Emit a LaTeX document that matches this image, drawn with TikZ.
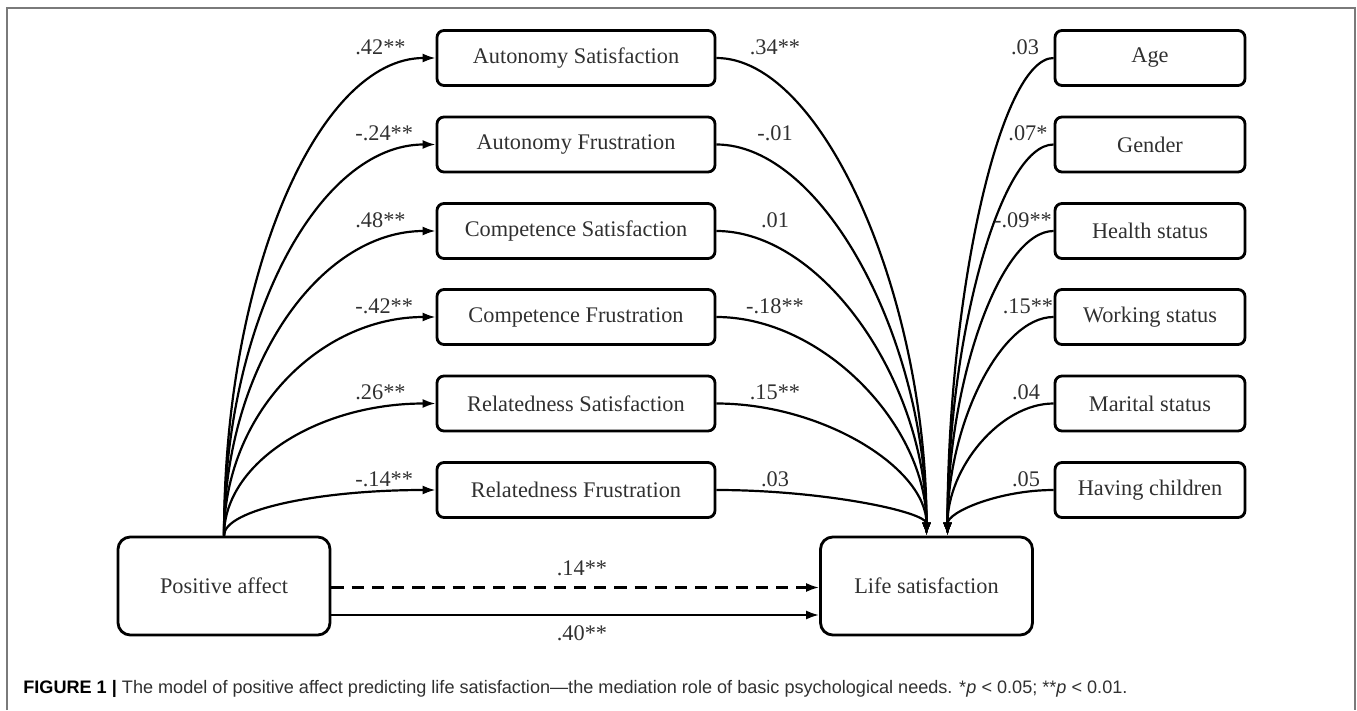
\documentclass[tikz,border=0pt]{standalone}
\usepackage{fontspec}
\setmainfont{Liberation Serif}
\newfontfamily\capfont{Liberation Sans}
\usetikzlibrary{arrows.meta}

\definecolor{tinta}{HTML}{303030}
\definecolor{marco}{HTML}{7A7A7A}

\begin{document}
\begin{tikzpicture}[>={Latex[length=2.6mm,width=1.8mm]}]
% Estilos para las cajas
\tikzstyle{need} = [draw, rectangle, rounded corners=4pt, line width=1.6pt, minimum width=5.56cm, minimum height=1.1cm, text=tinta, font=\fontsize{12.7}{15}\selectfont]
\tikzstyle{covar} = [need, minimum width=3.8cm]
\tikzstyle{mainvar} = [need, rounded corners=7pt, minimum width=4.24cm, minimum height=1.96cm]
\tikzstyle{coef} = [text=tinta, font=\fontsize{12.7}{15}\selectfont, inner sep=0pt]
\tikzstyle{link} = [->, line width=1.25pt]

\useasboundingbox (0,0) rectangle (27.14,14.2);

% Marco
\draw[marco, line width=1pt] (0.14,0) -- (0.14,14.04) -- (27.1,14.04) -- (27.1,0);

% Variables principales
\node[mainvar] (pa) at (4.48,2.48) {Positive affect};
\node[mainvar] (ls) at (18.53,2.48) {Life satisfaction};
\coordinate (lsr) at ([xshift=0.42cm]ls.north);

% Necesidades psicologicas
\node[need] (as) at (11.52,13.04) {Autonomy Satisfaction};
\node[need] (af) at (11.52,11.31) {Autonomy Frustration};
\node[need] (cs) at (11.52,9.58) {Competence Satisfaction};
\node[need] (cf) at (11.52,7.86) {Competence Frustration};
\node[need] (rs) at (11.52,6.13) {Relatedness Satisfaction};
\node[need] (rf) at (11.52,4.40) {Relatedness Frustration};

% Covariables
\node[covar] (age) at (23,13.04) {Age};
\node[covar] (gender) at (23,11.31) {Gender};
\node[covar] (health) at (23,9.58) {Health status};
\node[covar] (work) at (23,7.86) {Working status};
\node[covar] (marital) at (23,6.13) {Marital status};
\node[covar] (children) at (23,4.40) {Having children};

% Positive affect -> necesidades
\draw[link] (pa.north) .. controls +(0,5.27) and +(-2.33,0) .. (as.west);
\draw[link] (pa.north) .. controls +(0,4.32) and +(-2.33,0) .. (af.west);
\draw[link] (pa.north) .. controls +(0,3.37) and +(-2.33,0) .. (cs.west);
\draw[link] (pa.north) .. controls +(0,2.42) and +(-2.33,0) .. (cf.west);
\draw[link] (pa.north) .. controls +(0,1.47) and +(-2.33,0) .. (rs.west);
\draw[link] (pa.north) .. controls +(0,0.52) and +(-2.33,0) .. (rf.west);

\node[coef, anchor=west] (c1) at (7.1,13.26) {.42**};
\node[coef, anchor=west] (c2) at (7.1,11.53) {-.24**};
\node[coef, anchor=west] (c3) at (7.1,9.80) {.48**};
\node[coef, anchor=west] (c4) at (7.1,8.08) {-.42**};
\node[coef, anchor=west] (c5) at (7.1,6.35) {.26**};
\node[coef, anchor=west] (c6) at (7.1,4.62) {-.14**};

% Necesidades -> life satisfaction
\draw[link] (as.east) .. controls +(2.12,0) and +(0,4.80) .. (ls.north);
\draw[link] (af.east) .. controls +(2.12,0) and +(0,3.94) .. (ls.north);
\draw[link] (cs.east) .. controls +(2.12,0) and +(0,3.07) .. (ls.north);
\draw[link] (cf.east) .. controls +(2.12,0) and +(0,2.21) .. (ls.north);
\draw[link] (rs.east) .. controls +(2.12,0) and +(0,1.35) .. (ls.north);
\draw[link] (rf.east) .. controls +(2.12,0) and +(0,0.48) .. (ls.north);

\node[coef] (d1) at (15.5,13.26) {.34**};
\node[coef] (d2) at (15.5,11.53) {-.01};
\node[coef] (d3) at (15.5,9.80) {.01};
\node[coef] (d4) at (15.5,8.08) {-.18**};
\node[coef] (d5) at (15.5,6.35) {.15**};
\node[coef] (d6) at (15.5,4.62) {.03};

% Covariables -> life satisfaction
\draw[link] (age.west) .. controls +(-1.07,0) and +(0,4.80) .. (lsr);
\draw[link] (gender.west) .. controls +(-1.07,0) and +(0,3.94) .. (lsr);
\draw[link] (health.west) .. controls +(-1.07,0) and +(0,3.07) .. (lsr);
\draw[link] (work.west) .. controls +(-1.07,0) and +(0,2.21) .. (lsr);
\draw[link] (marital.west) .. controls +(-1.07,0) and +(0,1.35) .. (lsr);
\draw[link] (children.west) .. controls +(-1.07,0) and +(0,0.48) .. (lsr);

\node[coef] (e1) at (20.5,13.26) {.03};
\node[coef] (e2) at (20.56,11.53) {.07*};
\node[coef] (e3) at (20.46,9.80) {-.09**};
\node[coef] (e4) at (20.56,8.08) {.15**};
\node[coef] (e5) at (20.52,6.35) {.04};
\node[coef] (e6) at (20.52,4.62) {.05};

% Efecto directo e indirecto
\draw[link, dashed, dash pattern=on 7pt off 4.5pt] ([yshift=-0.03cm]pa.east) -- ([yshift=-0.03cm]ls.west);
\draw[link] ([yshift=-0.58cm]pa.east) -- ([yshift=-0.58cm]ls.west);
\node[coef] (f1) at (11.64,2.84) {.14**};
\node[coef] (f2) at (11.64,1.54) {.40**};

% Pie de figura
\node[anchor=base west, inner sep=0pt, font=\capfont\fontsize{10.3}{12}\selectfont, text=tinta] (cap) at (0.46,0.34)
  {{\bfseries\color{black}FIGURE 1} {\bfseries\color{black}|} The model of positive affect predicting life satisfaction—the mediation role of basic psychological needs. *\textit{p} < 0.05; **\textit{p} < 0.01.};
\end{tikzpicture}
\end{document}
